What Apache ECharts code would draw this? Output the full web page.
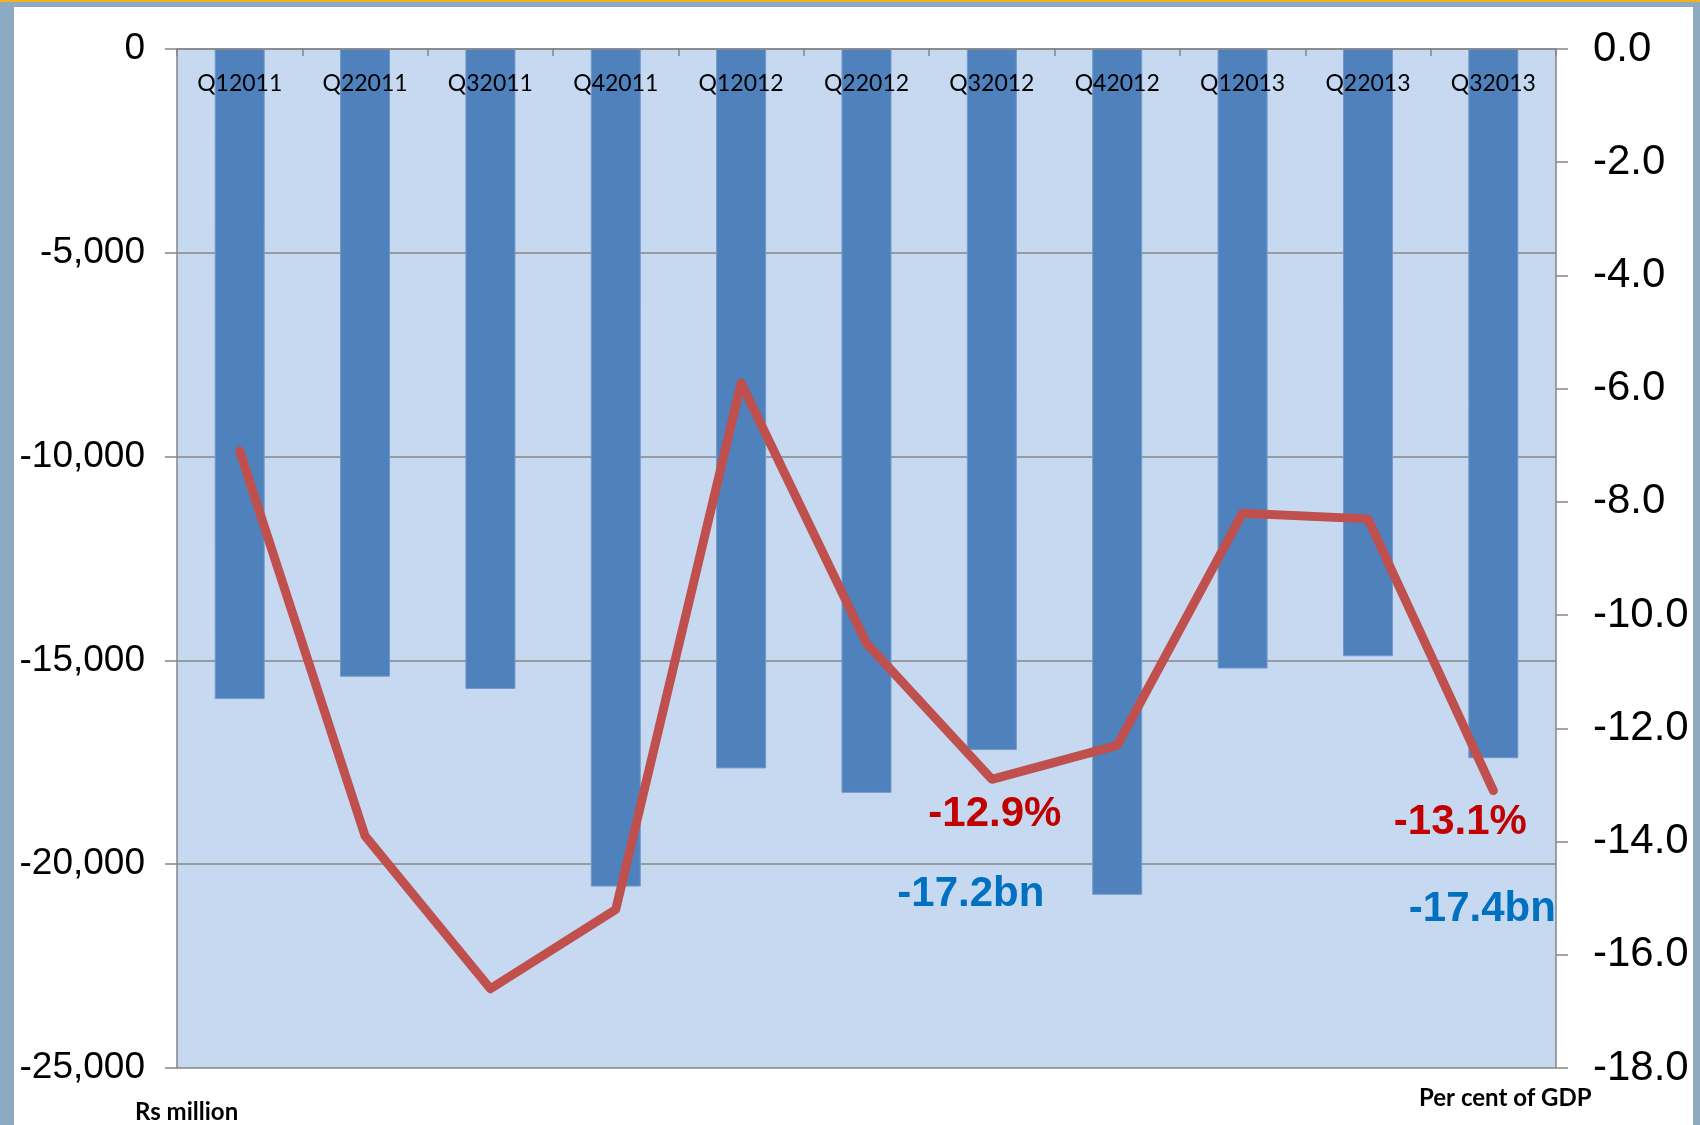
<!DOCTYPE html>
<html>
<head>
<meta charset="utf-8">
<script src="https://cdn.jsdelivr.net/npm/echarts@6/dist/echarts.min.js"></script>
<style>
  html, body { margin: 0; padding: 0; width: 1700px; height: 1125px; overflow: hidden; background: #8DAAC3; }
  #stripe { position: absolute; left: 0; top: 0; width: 1700px; height: 2px; background: #F2B31A; }
  #panel { position: absolute; left: 14px; top: 7px; width: 1679px; height: 1118px; background: #ffffff; }
  #chart { position: absolute; left: 0; top: 0; width: 1700px; height: 1125px; }
</style>
</head>
<body>
<div id="stripe"></div>
<div id="panel"></div>
<div id="chart"></div>
<script>
// Quarterly balance: Rs million (bars, left axis) and per cent of GDP (line, right axis)
const quarters = ['Q12011', 'Q22011', 'Q32011', 'Q42011', 'Q12012', 'Q22012',
                  'Q32012', 'Q42012', 'Q12013', 'Q22013', 'Q32013'];
const rsMillion = [-15950, -15400, -15700, -20550, -17650, -18250,
                   -17200, -20750, -15200, -14900, -17400];
const pctGdp = [-7.1, -13.9, -16.6, -15.2, -5.9, -10.5,
                -12.9, -12.3, -8.2, -8.3, -13.1];
// points that carry a callout label
const calloutIdx = [6, 10];

const chart = echarts.init(document.getElementById('chart'), null, { renderer: 'canvas' });

const axisGray = '#868686';
const arial = '"Liberation Sans", Arial, sans-serif';
const sans = 'Lato, "Noto Sans", sans-serif';

const barData = rsMillion.map((v, i) => {
  if (calloutIdx.indexOf(i) < 0) return v;
  return {
    value: v,
    label: {
      show: true,
      position: 'bottom',
      distance: 5,
      offset: i === 6 ? [-21, 118] : [-11, 125],
      formatter: p => (p.value / 1000).toFixed(1) + 'bn',
      fontFamily: arial, fontWeight: 'bold', fontSize: 42, color: '#0070C0'
    }
  };
});

const lineData = pctGdp.map((v, i) => {
  if (calloutIdx.indexOf(i) < 0) return v;
  return {
    value: v,
    label: {
      show: true,
      position: 'bottom',
      distance: i === 6 ? 14 : 11,
      offset: i === 6 ? [3, 0] : [-33, 0],
      formatter: p => p.value.toFixed(1) + '%',
      fontFamily: arial, fontWeight: 'bold', fontSize: 42, color: '#C00000'
    }
  };
});

chart.setOption({
  backgroundColor: 'transparent',
  animation: false,
  grid: { left: 177, top: 49, width: 1379, height: 1019, show: true, backgroundColor: '#C6D9F0', borderWidth: 0 },
  xAxis: {
    type: 'category',
    data: quarters,
    position: 'top',
    boundaryGap: true,
    z: 10,
    axisLine: { show: true, lineStyle: { color: axisGray, width: 1.5 } },
    axisTick: { show: true, inside: true, length: 7, lineStyle: { color: axisGray, width: 1.5 } },
    axisLabel: { inside: true, margin: 23, color: '#000', fontFamily: sans, fontSize: 23 },
    splitLine: { show: false }
  },
  yAxis: [
    {
      type: 'value',
      min: -25000, max: 0, interval: 5000,
      position: 'left',
      axisLine: { show: true, lineStyle: { color: axisGray, width: 1.5 } },
      axisTick: { show: true, inside: false, length: 12, lineStyle: { color: axisGray, width: 1.5 } },
      axisLabel: { margin: 32, color: '#000', fontFamily: arial, fontSize: 37,
                   formatter: v => v.toLocaleString('en-US') },
      splitLine: { show: true, lineStyle: { color: axisGray, width: 1.5 } }
    },
    {
      type: 'value',
      min: -18, max: 0, interval: 2,
      position: 'right',
      axisLine: { show: true, lineStyle: { color: axisGray, width: 1.5 } },
      axisTick: { show: true, inside: false, length: 12, lineStyle: { color: axisGray, width: 1.5 } },
      axisLabel: { margin: 37, color: '#000', fontFamily: arial, fontSize: 42,
                   formatter: v => v.toFixed(1) },
      splitLine: { show: false }
    }
  ],
  series: [
    {
      type: 'bar',
      yAxisIndex: 0,
      data: barData,
      barWidth: 50,
      itemStyle: { color: '#4F81BD', borderColor: '#7399CB', borderWidth: 1 },
      z: 2
    },
    {
      type: 'line',
      yAxisIndex: 1,
      data: lineData,
      symbol: 'circle',
      symbolSize: 0,
      showSymbol: true,
      itemStyle: { color: '#C0504D' },
      lineStyle: { color: '#C0504D', width: 9, cap: 'round', join: 'round' },
      z: 3
    }
  ],
  graphic: [
    { type: 'text', left: 135, top: 1100,
      style: { text: 'Rs million', fontFamily: sans, fontWeight: 'bold', fontSize: 24, fill: '#000' } },
    { type: 'text', left: 1419, top: 1086,
      style: { text: 'Per cent of GDP', fontFamily: sans, fontWeight: 'bold', fontSize: 24, fill: '#000' } }
  ]
});
</script>
</body>
</html>
